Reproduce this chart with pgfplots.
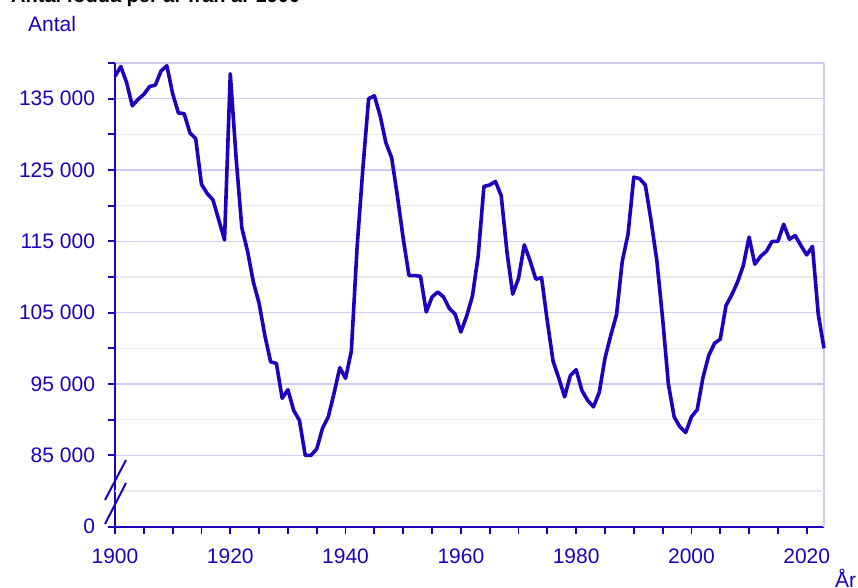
\documentclass[border=0pt]{standalone}
\usepackage{pgfplots}
\pgfplotsset{compat=1.18}
\usepackage{fontspec}
\setmainfont{Liberation Sans}
\definecolor{scb}{HTML}{1E00BE}
\definecolor{lav}{HTML}{CFCBF2}
\definecolor{lgrey}{HTML}{EBEBEB}
\pgfplotstableread{
year births
1900 138139
1901 139500
1902 137300
1903 134000
1904 134900
1905 135600
1906 136700
1907 136900
1908 138900
1909 139600
1910 135700
1911 133000
1912 132900
1913 130200
1914 129400
1915 123000
1916 121700
1917 120800
1918 118000
1919 115200
1920 138500
1921 126800
1922 116900
1923 113600
1924 109300
1925 106300
1926 101800
1927 98100
1928 97900
1929 93000
1930 94200
1931 91300
1932 89900
1933 85000
1934 85000
1935 85900
1936 88800
1937 90400
1938 93700
1939 97300
1940 95800
1941 99600
1942 114200
1943 125200
1944 135000
1945 135400
1946 132600
1947 128800
1948 126700
1949 121300
1950 115400
1951 110200
1952 110200
1953 110100
1954 105100
1955 107200
1956 107900
1957 107200
1958 105600
1959 104800
1960 102300
1961 104500
1962 107300
1963 112900
1964 122700
1965 122900
1966 123400
1967 121400
1968 113500
1969 107600
1970 109800
1971 114500
1972 112300
1973 109700
1974 109900
1975 103800
1976 98200
1977 95800
1978 93200
1979 96200
1980 97000
1981 94100
1982 92700
1983 91800
1984 93800
1985 98600
1986 101800
1987 104700
1988 112200
1989 116000
1990 124000
1991 123800
1992 122900
1993 117900
1994 112300
1995 104200
1996 95000
1997 90400
1998 89000
1999 88200
2000 90400
2001 91400
2002 95900
2003 99000
2004 100700
2005 101300
2006 106000
2007 107500
2008 109300
2009 111600
2010 115600
2011 111800
2012 112900
2013 113600
2014 115000
2015 115000
2016 117400
2017 115300
2018 115800
2019 114400
2020 113100
2021 114300
2022 104800
2023 100000
}\births
\begin{document}
\begin{tikzpicture}
\path[use as bounding box] (0pt,0pt) rectangle (858pt,587pt);
\node[anchor=base west, font=\fontsize{20}{24}\selectfont\bfseries, inner sep=0pt] at (11pt,584.3pt) {Antal födda per år från år 1900};
\node[anchor=base west, text=scb, font=\fontsize{21}{25}\selectfont, inner sep=0pt] at (28pt,555pt) {Antal};
\node[anchor=base west, text=scb, font=\fontsize{21}{25}\selectfont, inner sep=0pt] at (835pt,0pt) {År};
\begin{axis}[
  at={(115pt,60.3pt)}, anchor=south west,
  scale only axis, width=709pt, height=463.7pt,
  xmin=1900, xmax=2023, ymin=75000, ymax=140000,
  axis lines*=left,
  axis line style={draw=scb, line width=1.8pt, -},
  clip=false,
  scaled y ticks=false, scaled x ticks=false,
  xtick={1900,1920,1940,1960,1980,2000,2020},
  xticklabels={1900,1920,1940,1960,1980,2000,2020},
  minor xtick={1905,1910,1915,1925,1930,1935,1945,1950,1955,1965,1970,1975,1985,1990,1995,2005,2010,2015},
  ytick={75000,85000,95000,105000,115000,125000,135000,140000},
  yticklabels={0,85 000,95 000,105 000,115 000,125 000,135 000,},
  minor ytick={90000,100000,110000,120000,130000},
  tick align=outside,
  major tick length=7.5pt, minor tick length=7.5pt,
  every tick/.style={draw=scb, line width=1.8pt},
  ymajorgrids, yminorgrids,
  major grid style={draw=lav, line width=1.5pt},
  minor grid style={draw=lgrey, line width=1.5pt},
  extra y ticks={80000},
  extra y tick labels={},
  extra y tick style={major tick length=0pt, grid=major, major grid style={draw=lgrey, line width=1.5pt}},
  extra x ticks={2023},
  extra x tick labels={},
  extra x tick style={major tick length=0pt, grid=major, major grid style={draw=lav, line width=1.5pt}},
  tick label style={font=\fontsize{21}{25}\selectfont, text=scb},
  xticklabel style={yshift=-11pt},
  yticklabel style={xshift=-9pt},
]
\addplot[scb, line width=3.6pt, line join=round] table[x=year, y=births] {\births};
\end{axis}
\draw[scb, line width=2pt] (105pt,87pt) -- (126pt,127pt);
\draw[scb, line width=2pt] (105pt,63pt) -- (126pt,104pt);
\end{tikzpicture}
\end{document}
